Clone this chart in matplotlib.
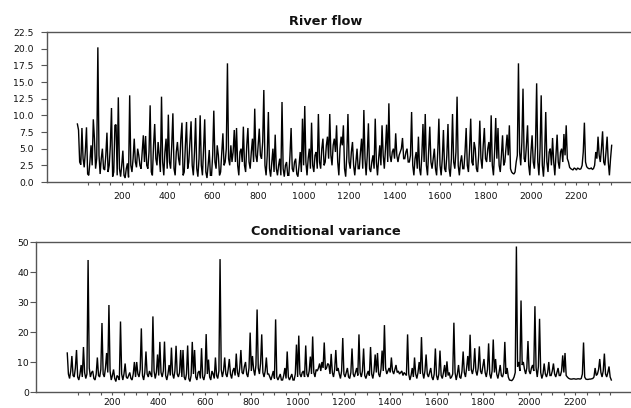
import numpy as np
import matplotlib
matplotlib.use("Agg")
import matplotlib.pyplot as plt

# time index (observation number)
t = np.arange(5, 2356, 5)

river_flow = [
    8.7, 7.8, 3.0, 2.6, 8.1, 3.5, 2.2, 4.6, 8.2, 1.2, 1.0, 3.0, 5.5, 2.5, 9.4, 6.5, 2.0, 3.5, 20.2, 4.0,
    1.2, 3.5, 5.0, 2.0, 1.8, 4.0, 7.4, 1.5, 2.5, 5.5, 11.1, 0.8, 1.5, 8.5, 8.6, 1.0, 12.7, 2.0, 0.8, 2.5,
    4.7, 1.0, 0.6, 2.0, 2.8, 0.7, 13.0, 2.5, 1.5, 3.5, 6.5, 3.0, 2.2, 5.0, 4.0, 2.5, 2.0, 4.5, 7.0, 3.0,
    6.9, 2.5, 2.0, 4.5, 11.5, 1.5, 1.0, 5.5, 8.7, 3.5, 2.5, 6.0, 4.0, 1.5, 12.8, 3.0, 1.0, 4.5, 6.5, 2.0,
    10.1, 3.0, 2.0, 5.5, 10.3, 2.0, 1.0, 4.5, 6.0, 3.5, 2.5, 6.5, 8.9, 1.0, 1.5, 5.5, 9.0, 2.0, 3.0, 6.0,
    9.1, 2.5, 1.0, 4.5, 9.6, 2.0, 0.8, 3.5, 10.0, 2.5, 1.0, 5.0, 9.4, 1.5, 0.6, 2.5, 4.8, 1.0, 1.0, 4.0,
    10.7, 3.0, 2.0, 5.5, 4.0, 1.0, 1.5, 4.5, 7.3, 2.5, 3.0, 5.0, 17.8, 3.5, 2.5, 5.5, 3.0, 4.5, 7.8, 3.0,
    8.1, 2.5, 1.0, 4.5, 5.0, 3.0, 8.3, 2.5, 1.5, 5.5, 8.1, 3.0, 2.0, 4.5, 6.5, 3.0, 11.0, 4.0, 3.0, 5.5,
    8.0, 4.0, 3.5, 6.0, 13.8, 2.5, 1.0, 4.0, 10.5, 2.0, 0.8, 3.0, 5.0, 1.5, 7.1, 2.0, 1.0, 2.5, 3.5, 1.0,
    12.0, 2.0, 0.8, 2.5, 3.0, 1.0, 1.0, 4.0, 8.1, 2.0, 1.5, 3.0, 3.5, 1.2, 0.8, 2.5, 4.5, 1.5, 9.5, 2.5,
    11.4, 3.0, 1.0, 3.5, 5.0, 2.0, 8.9, 2.5, 1.5, 4.0, 4.5, 2.0, 10.2, 3.0, 2.0, 5.0, 6.5, 2.5, 3.0, 5.5,
    6.8, 3.5, 10.2, 4.0, 2.5, 5.5, 6.5, 4.5, 8.5, 3.0, 1.0, 5.0, 6.8, 5.5, 8.5, 2.0, 0.8, 4.0, 10.2, 3.0,
    2.0, 4.5, 6.0, 2.5, 1.0, 3.0, 5.0, 2.0, 2.0, 4.5, 6.5, 2.0, 10.8, 3.5, 1.0, 4.0, 8.8, 2.0, 1.5, 3.0,
    4.0, 2.0, 9.5, 3.0, 1.0, 3.5, 5.5, 2.5, 8.5, 4.0, 2.0, 5.0, 8.6, 3.0, 11.8, 4.0, 3.0, 4.5, 5.0, 3.5,
    7.3, 4.0, 3.0, 4.0, 4.5, 5.0, 6.6, 3.5, 3.5, 4.5, 5.0, 3.0, 3.0, 4.0, 10.5, 2.5, 1.0, 3.5, 4.5, 2.0,
    6.8, 2.0, 1.0, 4.0, 8.7, 3.0, 10.2, 2.5, 1.0, 4.5, 8.3, 3.0, 2.0, 3.5, 5.0, 2.0, 1.0, 4.5, 9.5, 2.5,
    1.0, 3.5, 7.8, 2.0, 1.5, 4.0, 8.7, 2.0, 0.8, 3.5, 10.2, 3.0, 2.0, 4.5, 12.8, 2.5, 1.0, 3.0, 4.0, 2.0,
    2.0, 4.5, 8.1, 2.5, 1.5, 5.0, 9.5, 3.0, 2.5, 6.0, 5.0, 2.0, 1.5, 4.0, 9.2, 3.5, 2.0, 5.5, 8.1, 3.5,
    3.0, 5.0, 6.0, 3.0, 10.0, 2.5, 1.0, 4.5, 9.6, 3.5, 8.1, 2.5, 1.5, 4.0, 7.0, 2.5, 3.0, 5.0, 7.1, 4.0,
    8.5, 2.0, 1.5, 1.3, 1.2, 1.5, 3.0, 4.0, 17.8, 4.5, 2.5, 6.0, 14.0, 3.5, 3.0, 5.5, 8.5, 2.5, 1.0, 4.5,
    7.0, 3.0, 2.0, 5.5, 14.8, 3.0, 1.0, 5.0, 13.0, 2.5, 0.8, 4.0, 10.5, 3.0, 1.5, 4.5, 5.0, 2.5, 6.6, 3.0,
    1.0, 4.0, 7.1, 3.0, 2.0, 4.5, 5.0, 3.0, 7.2, 4.0, 8.5, 3.5, 3.0, 2.2, 2.0, 1.9, 1.8, 2.1, 2.0, 1.8,
    2.1, 2.0, 1.9, 2.0, 2.5, 4.5, 8.9, 3.0, 2.3, 2.1, 2.0, 2.0, 2.1, 1.9, 2.0, 2.5, 4.5, 3.5, 6.8, 4.0,
    3.0, 5.0, 7.6, 3.0, 2.5, 4.5, 6.8, 3.0, 1.0, 3.5, 5.5,
]

cond_variance = [
    13.0, 6.0, 4.5, 7.0, 12.0, 5.5, 5.0, 8.0, 14.0, 5.0, 4.0, 6.0, 9.0, 5.0, 15.0, 6.5, 4.5, 6.0, 44.0, 8.0,
    5.0, 6.5, 7.0, 4.5, 4.0, 6.0, 11.5, 5.5, 5.0, 7.5, 23.0, 6.0, 5.0, 8.0, 13.0, 6.5, 29.0, 7.0, 4.0, 5.5,
    7.5, 4.5, 3.5, 5.5, 5.0, 4.0, 23.5, 6.0, 4.0, 6.0, 9.5, 5.0, 4.5, 5.5, 6.5, 4.5, 4.0, 6.0, 10.0, 5.0,
    10.0, 6.0, 5.0, 7.5, 21.2, 5.5, 4.0, 6.5, 13.5, 6.0, 5.0, 7.0, 6.0, 5.0, 25.2, 7.0, 4.5, 6.5, 12.5, 5.5,
    16.7, 6.5, 5.0, 7.0, 16.8, 5.5, 4.0, 6.0, 9.0, 5.5, 14.8, 6.0, 4.5, 7.0, 15.4, 6.0, 5.0, 6.5, 14.0, 5.0,
    14.0, 5.0, 4.0, 6.0, 15.5, 4.5, 3.5, 5.5, 16.7, 6.0, 14.0, 5.0, 4.0, 6.5, 7.0, 4.5, 14.6, 5.0, 4.0, 6.0,
    19.3, 6.0, 10.8, 5.0, 4.0, 7.0, 6.0, 4.5, 11.5, 5.5, 4.5, 7.0, 44.3, 7.5, 5.0, 7.0, 11.5, 6.0, 5.0, 7.5,
    11.0, 6.0, 4.5, 7.0, 8.0, 5.5, 12.8, 6.5, 5.0, 8.0, 14.0, 6.5, 6.0, 8.5, 10.0, 6.0, 5.0, 8.0, 19.8, 7.0,
    12.0, 7.5, 5.5, 9.0, 27.5, 8.0, 6.0, 9.5, 19.2, 6.5, 5.0, 7.0, 11.5, 6.0, 6.0, 5.0, 4.0, 5.5, 7.0, 4.5,
    24.2, 5.0, 4.0, 5.0, 6.0, 4.0, 4.0, 5.5, 8.0, 4.5, 13.5, 5.0, 4.0, 5.0, 6.0, 4.0, 4.0, 6.0, 15.8, 5.0,
    18.8, 6.0, 5.0, 6.5, 7.0, 5.0, 15.5, 6.0, 5.0, 7.0, 11.8, 6.0, 18.5, 6.5, 5.0, 7.5, 7.0, 8.0, 9.5, 7.0,
    10.0, 8.0, 16.5, 7.5, 8.0, 9.5, 9.0, 6.0, 12.7, 6.5, 5.0, 7.5, 14.0, 7.0, 8.0, 6.0, 4.5, 7.0, 18.0, 6.0,
    5.0, 6.5, 8.0, 5.0, 4.5, 6.5, 14.5, 6.0, 5.0, 6.5, 8.0, 5.5, 19.2, 6.5, 5.0, 7.0, 14.5, 5.5, 4.5, 6.0,
    7.0, 5.5, 15.0, 6.0, 4.5, 7.0, 12.5, 6.5, 13.0, 6.0, 5.0, 7.5, 13.8, 7.0, 22.3, 8.0, 6.0, 7.0, 8.0, 6.5,
    11.5, 7.0, 6.0, 7.5, 9.0, 6.5, 7.0, 6.0, 6.5, 7.0, 5.5, 6.5, 6.0, 5.5, 19.2, 6.0, 4.0, 5.5, 8.0, 5.0,
    11.5, 6.0, 4.5, 6.5, 10.0, 6.0, 18.3, 6.5, 4.5, 7.0, 12.5, 6.0, 5.0, 6.5, 8.0, 5.0, 4.0, 6.0, 14.5, 5.5,
    4.0, 6.0, 13.8, 5.5, 4.5, 6.5, 9.0, 5.0, 10.2, 5.5, 6.5, 4.5, 5.0, 6.0, 23.1, 6.5, 4.0, 6.0, 9.0, 5.0,
    4.5, 7.0, 13.5, 6.5, 5.0, 8.0, 12.0, 7.0, 19.1, 7.5, 6.0, 8.0, 14.6, 7.0, 5.5, 8.0, 15.2, 7.0, 6.0, 8.5,
    11.0, 6.5, 5.0, 7.5, 16.2, 6.0, 4.5, 7.0, 17.5, 6.5, 11.0, 6.0, 4.5, 6.5, 9.0, 5.5, 5.0, 6.5, 16.7, 6.0,
    8.0, 5.0, 4.0, 3.9, 3.8, 4.2, 5.0, 6.5, 48.5, 8.5, 10.0, 7.0, 30.5, 9.0, 10.0, 7.5, 6.0, 8.0, 17.0, 7.0,
    6.0, 8.0, 9.0, 7.0, 28.6, 8.0, 5.0, 8.5, 24.4, 6.5, 4.5, 6.0, 9.5, 6.0, 5.0, 6.5, 10.0, 5.5, 5.5, 7.0,
    9.5, 6.0, 5.0, 6.5, 8.0, 5.5, 5.5, 7.0, 12.2, 6.5, 13.0, 5.5, 5.0, 4.6, 4.4, 4.3, 4.3, 4.4, 4.4, 4.3,
    4.3, 4.4, 4.4, 4.3, 4.5, 6.0, 16.5, 5.0, 4.3, 4.2, 4.2, 4.3, 4.3, 4.4, 4.5, 5.0, 8.0, 5.5, 6.0, 7.5,
    11.0, 6.5, 5.0, 7.0, 12.8, 6.0, 5.0, 6.5, 8.5, 5.0, 4.0,
]

titles = ["River flow", "Conditional variance"]
yticks_top = [0.0, 2.5, 5.0, 7.5, 10.0, 12.5, 15.0, 17.5, 20.0, 22.5]
yticks_bot = [0, 10, 20, 30, 40, 50]
xtick_labels = [200, 400, 600, 800, 1000, 1200, 1400, 1600, 1800, 2000, 2200]

plt.rcParams['font.family'] = ['DejaVu Sans']
W, H = 631, 408
fig = plt.figure(figsize=(W / 100, H / 100), dpi=100)

ax1 = fig.add_axes([46.7 / W, (H - 182) / H, (W - 46.7) / W, 150 / H])
ax2 = fig.add_axes([36.0 / W, (H - 392) / H, (W - 36.0) / W, 150 / H])

spine_col = '#555555'
xt = np.arange(50, 2351, 50)
for ax, y, yt, fmt, ypad, ylen, xpad in [
    (ax1, river_flow, yticks_top, '{:.1f}', 4.8, 4.6, 5.0),
    (ax2, cond_variance, yticks_bot, '{:d}', 0.6, 4.3, 2.2),
]:
    ax.plot(t[:len(y)], y, color='black', lw=1.0, solid_joinstyle='miter')
    ax.set_xlim(-130, 2440)
    ax.set_ylim(yt[0], yt[-1])
    ax.set_yticks(yt)
    ax.set_yticklabels([fmt.format(v) for v in yt])
    ax.set_xticks(xt)
    ax.set_xticklabels([str(v) if v in xtick_labels else '' for v in xt])
    ax.spines['right'].set_visible(False)
    for s in ['top', 'left', 'bottom']:
        ax.spines[s].set_color(spine_col)
        ax.spines[s].set_linewidth(1.0)
    ax.tick_params(axis='y', direction='out', length=ylen, width=0.8, color=spine_col,
                   labelsize=6.7, pad=ypad, labelcolor='#111111')
    ax.tick_params(axis='x', direction='out', length=2.4, width=0.8, color=spine_col,
                   labelsize=6.7, pad=xpad, labelcolor='#111111')

fig.text(325.5 / W, 1 - 21.7 / H, titles[0], ha='center', va='center',
         fontsize=9.3, fontweight='bold', color='#111111')
fig.text(325.5 / W, 1 - 231.7 / H, titles[1], ha='center', va='center',
         fontsize=9.3, fontweight='bold', color='#111111')

fig.savefig('out.png', dpi=100)
